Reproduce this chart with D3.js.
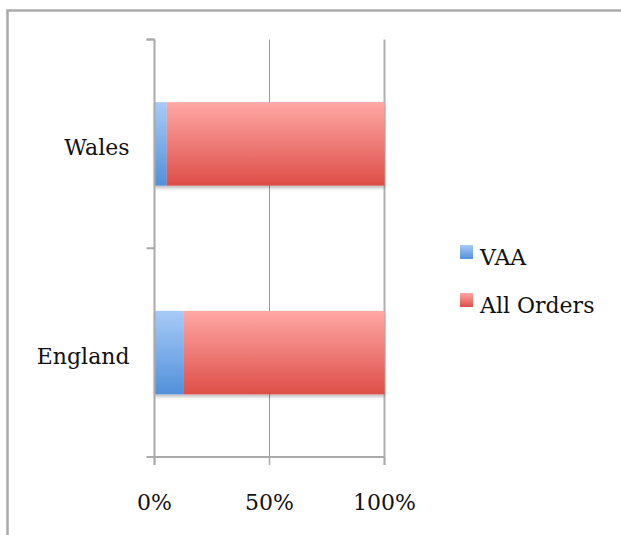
<!DOCTYPE html>
<html>
  <head>
    <meta http-equiv="Content-Type" content="text/html;charset=utf-8" />
    <title>VAA vs All Orders</title>
    <script type="text/javascript" src="https://d3js.org/d3.v7.min.js"></script>
    <style>
      body { margin: 0; background: #fff; }
      text { font-family: "DejaVu Serif", serif; fill: #111; }
    </style>
  </head>
  <body>
    <div id="chart"></div>

    <script type="text/javascript">
      // data (100% stacked)
      var countries = ["England", "Wales"];
      var seriesNames = ["VAA", "All Orders"];
      var vaa = [12.5, 5.3];
      var allOrders = [87.5, 94.7];
      var xTicks = [0, 50, 100];

      var width = 621, height = 535;
      var margin = { left: 154.5, top: 39.5 };
      var plotW = 230, plotH = 417.5;

      var svg = d3.select("#chart").append("svg")
        .attr("width", width)
        .attr("height", height);

      // gradients + shadow
      var defs = svg.append("defs");
      var grads = [
        { id: "gBlue", top: "#a8cbf8", bottom: "#5190da" },
        { id: "gRed", top: "#ffa8a5", bottom: "#de4e48" }
      ];
      grads.forEach(function(g) {
        var lg = defs.append("linearGradient").attr("id", g.id)
          .attr("x1", "0%").attr("x2", "0%").attr("y1", "0%").attr("y2", "100%");
        lg.append("stop").attr("offset", "0%").attr("stop-color", g.top);
        lg.append("stop").attr("offset", "100%").attr("stop-color", g.bottom);
      });
      var f = defs.append("filter").attr("id", "shadow")
        .attr("x", "-5%").attr("y", "-5%").attr("width", "110%").attr("height", "130%");
      f.append("feDropShadow").attr("dx", 0).attr("dy", 2.5)
        .attr("stdDeviation", 1.5).attr("flood-color", "#000").attr("flood-opacity", 0.25);

      // outer frame (only top and left edges show)
      svg.append("path")
        .attr("d", "M7.5," + height + "V10.5H" + width)
        .attr("fill", "none").attr("stroke", "#aaa").attr("stroke-width", 2.5);

      var x = d3.scaleLinear().domain([0, 100]).range([0, plotW]);
      var y = d3.scaleBand().domain(countries).range([plotH, 0]).paddingInner(0.6).paddingOuter(0.3);
      var yb = d3.scaleBand().domain(countries).range([plotH, 0]);

      var g = svg.append("g")
        .attr("transform", "translate(" + margin.left + "," + margin.top + ")");

      // gridlines
      g.selectAll(".grid").data(xTicks.slice(1)).enter().append("line")
        .attr("class", "grid")
        .attr("x1", d => x(d)).attr("x2", d => x(d))
        .attr("y1", 0).attr("y2", plotH + 8)
        .attr("stroke", d => d === 100 ? "#b0b0b0" : "#999")
        .attr("stroke-width", d => d === 100 ? 2 : 1);

      // stacked bars
      var rows = countries.map(function(c, i) {
        return { country: c, VAA: vaa[i], "All Orders": allOrders[i] };
      });
      var stack = d3.stack().keys(seriesNames)(rows);
      var fills = { "VAA": "url(#gBlue)", "All Orders": "url(#gRed)" };

      var bars = g.append("g").attr("filter", "url(#shadow)");
      bars.selectAll("g").data(stack).enter().append("g")
        .attr("fill", d => fills[d.key])
        .selectAll("rect").data(d => d).enter().append("rect")
        .attr("x", d => x(d[0]))
        .attr("width", d => x(d[1]) - x(d[0]))
        .attr("y", d => y(d.data.country))
        .attr("height", y.bandwidth());

      // y axis
      var yTickPos = [0].concat(countries.map(c => yb(c)));
      g.append("line")
        .attr("x1", 0).attr("x2", 0).attr("y1", 0).attr("y2", plotH + 8)
        .attr("stroke", "#aaa").attr("stroke-width", 2);
      g.selectAll(".ytick").data(yTickPos).enter().append("line")
        .attr("x1", -8).attr("x2", 0)
        .attr("y1", d => d).attr("y2", d => d)
        .attr("stroke", "#aaa").attr("stroke-width", 2);

      // x axis
      g.append("line")
        .attr("x1", -8).attr("x2", plotW).attr("y1", plotH).attr("y2", plotH)
        .attr("stroke", "#aaa").attr("stroke-width", 2);
      g.selectAll(".xtick").data(xTicks).enter().append("line")
        .attr("x1", d => x(d)).attr("x2", d => x(d))
        .attr("y1", plotH).attr("y2", plotH + 8)
        .attr("stroke", "#aaa").attr("stroke-width", 1.5);

      g.selectAll(".xlabel").data(xTicks).enter().append("text")
        .attr("x", d => x(d)).attr("y", plotH + 53)
        .attr("text-anchor", "middle")
        .attr("font-size", 22)
        .text(d => d + "%");

      g.selectAll(".ylabel").data(countries).enter().append("text")
        .attr("x", -25)
        .attr("y", d => y(d) + y.bandwidth() / 2 + 11)
        .attr("text-anchor", "end")
        .attr("font-size", 22)
        .text(d => d);

      // legend
      var legend = svg.append("g").attr("transform", "translate(460,245)");
      var li = legend.selectAll("g").data(seriesNames).enter().append("g")
        .attr("transform", (d, i) => "translate(0," + i * 48 + ")");
      li.append("rect").attr("width", 13).attr("height", 14)
        .attr("fill", d => fills[d]);
      li.append("text").attr("x", 20).attr("y", 20)
        .attr("font-size", 22)
        .text(d => d);
    </script>
  </body>
</html>
